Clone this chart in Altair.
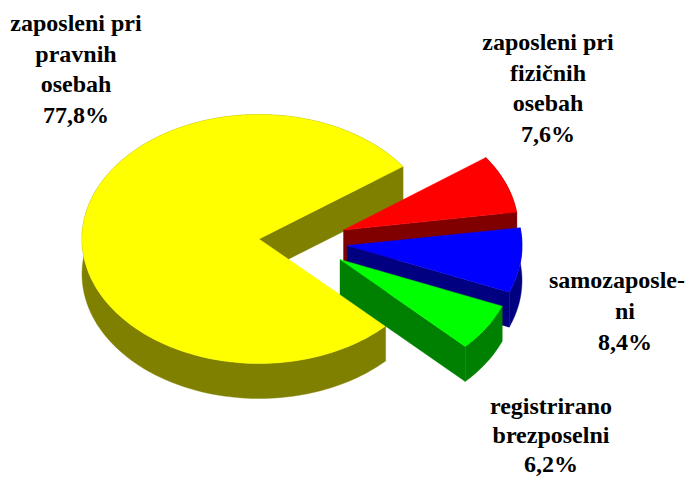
import math
import altair as alt
import pandas as pd

slice_names = ["zaposleni pri fizičnih osebah", "samozaposleni", "registrirano brezposelni", "zaposleni pri pravnih osebah"]
shares = [7.6, 8.4, 6.2, 77.8]
top_colors = ["#ff0000", "#0000ff", "#00ff00", "#ffff00"]
wall_colors = ["#800000", "#000080", "#008000", "#808000"]
apexes = [(343.5, 230), (347, 245.5), (340, 259.5), (259, 239)]
radii_x = [175, 175, 175, 177]
paint_order = [3, 0, 1, 2]

label_lines = [
    ["zaposleni pri", "pravnih", "osebah", "77,8%"],
    ["zaposleni pri", "fizičnih", "osebah", "7,6%"],
    ["samozaposle-", "ni", "8,4%"],
    ["registrirano", "brezposelni", "6,2%"],
]
# horizontal centre of each line (the long line is pulled in so that it stays on the canvas)
label_line_centers = [
    [76, 76, 76, 76],
    [548, 548, 548, 548],
    [617, 625, 625],
    [551, 551, 551],
]
label_first_baselines = [31, 50, 288, 414]
label_steps = [30.7, 30.7, 31, 29]

RY, DEPTH = 124.5, 35
START = 35.6

x_scale = alt.Scale(domain=[8, 686], range=[0, 678], nice=False, zero=False)
y_scale = alt.Scale(domain=[8, 477], range=[0, 469], nice=False, zero=False)


def rim(apex, rx, a0, a1, dy=0.0):
    n = max(2, int(abs(a1 - a0) / 1.5))
    pts = []
    for i in range(n + 1):
        a = math.radians(a0 + (a1 - a0) * i / n)
        pts.append((apex[0] + rx * math.cos(a), apex[1] - RY * math.sin(a) + dy))
    return pts


def poly(points, color):
    pts = list(points) + [points[0]]
    df = pd.DataFrame({"x": [p[0] for p in pts], "y": [p[1] for p in pts], "i": range(len(pts))})
    return alt.Chart(df).mark_line(fill=color, stroke=color, strokeWidth=0.4, interpolate="linear").encode(
        x=alt.X("x:Q", scale=x_scale, axis=None),
        y=alt.Y("y:Q", scale=y_scale, axis=None),
        order="i:Q",
    )


spans = []
a = START
for s in shares:
    spans.append((a, a - s * 3.6))
    a -= s * 3.6

layers = []
for k in paint_order:
    apex = apexes[k]
    a0, a1 = spans[k]
    top = rim(apex, radii_x[k], a0, a1)
    low = rim(apex, radii_x[k], a0, a1, DEPTH)
    wc, tc = wall_colors[k], top_colors[k]
    layers.append(poly([apex, top[-1], low[-1], (apex[0], apex[1] + DEPTH)], wc))
    layers.append(poly(top + low[::-1], wc))
    layers.append(poly([apex] + top, tc))

rows = []
for lines, centers, y0, step in zip(label_lines, label_line_centers, label_first_baselines, label_steps):
    for j, t in enumerate(lines):
        rows.append({"t": t, "x": centers[j], "y": y0 + j * step})
text = alt.Chart(pd.DataFrame(rows)).mark_text(
    font="Liberation Serif", fontWeight="bold", fontSize=24, align="center", baseline="alphabetic", color="#000000",
).encode(
    x=alt.X("x:Q", scale=x_scale, axis=None),
    y=alt.Y("y:Q", scale=y_scale, axis=None),
    text="t:N",
)

chart = alt.layer(*layers, text).properties(
    width=678, height=469, padding=0, autosize=alt.AutoSizeParams(type="none")
).configure_view(stroke=None)
chart.save("out.html", embed_options={"renderer": "svg", "actions": False})
